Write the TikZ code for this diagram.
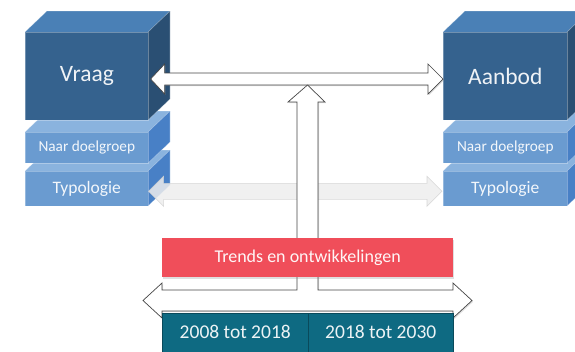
\documentclass[tikz,border=0pt]{standalone}
\usepackage{fontspec}
\setmainfont{Carlito}
\usetikzlibrary{shadows,calc}
\definecolor{cubeF}{RGB}{53,98,142}
\definecolor{cubeT}{RGB}{74,128,182}
\definecolor{cubeS}{RGB}{42,79,115}
\definecolor{slabF}{RGB}{106,155,208}
\definecolor{slabT}{RGB}{138,179,222}
\definecolor{slabS}{RGB}{72,128,198}
\definecolor{redbox}{RGB}{240,78,90}
\definecolor{tealbox}{RGB}{14,106,130}
\definecolor{arrowedge}{RGB}{70,70,70}
\newcommand\prism[8]{%
  \fill[#6] ({#1},{#2}) -- ({#1+22},{#2-21}) -- ({#3+22},{#2-21}) -- ({#3},{#2}) -- cycle;
  \fill[#7] ({#3},{#2}) -- ({#3+22},{#2-21}) -- ({#3+22},{#4-21}) -- ({#3},{#4}) -- cycle;
  \draw[white,opacity=.3,line width=.6pt] ({#1},{#2}) -- ({#1+22},{#2-21}) -- ({#3+22},{#2-21}) -- ({#3+22},{#4-21}) -- ({#3},{#4}) ({#3},{#2}) -- ({#3+22},{#2-21});
  \node[fill=#5, draw=white, draw opacity=.3, line width=.6pt, minimum width={#3-#1}, minimum height={#4-#2}, inner sep=0pt, anchor=north west] (#8) at ({#1},{#2}) {};
}
\tikzset{
  boxtxt/.style={text=white, opacity=.92},
  blockarrow/.style={fill=white, draw=arrowedge, line width=.7pt, line join=miter,
    drop shadow={shadow xshift=1.2pt, shadow yshift=-1.2pt, opacity=.25}},
  ghostarrow/.style={fill=gray!14, draw=gray!35, line width=.6pt, opacity=.85},
}
\begin{document}
\begin{tikzpicture}[x=1pt,y=-1pt]
\useasboundingbox (0,0) rectangle (575,351);
\clip (0,0) rectangle (575,351);
% left stack
\prism{25}{171}{148}{206}{slabF}{slabT}{slabS}{ltyp}
\prism{25}{132}{148}{163}{slabF}{slabT}{slabS}{ldoel}
\prism{25}{32}{148}{120}{cubeF}{cubeT}{cubeS}{lcube}
\node[boxtxt, font=\fontsize{23.5}{23.5}\selectfont] (vraag) at (lcube.center) {Vraag};
\node[boxtxt, font=\fontsize{15.3}{15.3}\selectfont] (vdoel) at (ldoel.center) {Naar doelgroep};
\node[boxtxt, font=\fontsize{17.5}{17.5}\selectfont] (vtyp) at (ltyp.center) {Typologie};
% right stack
\prism{443}{171}{567}{206}{slabF}{slabT}{slabS}{rtyp}
\prism{443}{132}{567}{163}{slabF}{slabT}{slabS}{rdoel}
\prism{443}{32}{567}{120}{cubeF}{cubeT}{cubeS}{rcube}
\node[boxtxt, font=\fontsize{23.5}{23.5}\selectfont] (aanbod) at (rcube.center) {Aanbod};
\node[boxtxt, font=\fontsize{15.3}{15.3}\selectfont] (adoel) at (rdoel.center) {Naar doelgroep};
\node[boxtxt, font=\fontsize{17.5}{17.5}\selectfont] (atyp) at (rtyp.center) {Typologie};
% ghost arrow between Typologie slabs
\coordinate (gL) at ($(ltyp.east)+(0,2.5)$);
\coordinate (gR) at ($(rtyp.west)+(-1,2.5)$);
\fill[ghostarrow] (gL) -- ++(15,-15) -- ++(0,7) -- ($(gR)+(-15,-8)$) -- ++(0,-7) -- (gR) -- ++(-15,15) -- ++(0,-7) -- ($(gL)+(15,8)$) -- ++(0,7) -- cycle;
% top double arrow between Vraag and Aanbod
\coordinate (tL) at ($(lcube.north east)+(2,47)$);
\coordinate (tR) at ($(rcube.north west)+(0,47)$);
\path[blockarrow] (tL) -- ++(14,-15) -- ++(0,9) -- ($(tR)+(-15,-6)$) -- ++(0,-9) -- (tR) -- ++(-15,15) -- ++(0,-9) -- ($(tL)+(14,6)$) -- ++(0,9) -- cycle;
% T arrow: timeline double arrow with vertical arrow up to the top arrow
\coordinate (bL) at (143,300.5);
\coordinate (bR) at (472,300.5);
\path[blockarrow] (bL) -- ++(19,-17.5) -- ++(0,7) -- (297,290) -- (297,102) -- (288,102) -- (307.5,85) -- (325,102) -- (318,102) -- (318,290) -- ($(bR)+(-19,-10.5)$) -- ++(0,-7) -- (bR) -- ++(-19,17.5) -- ++(0,-7) -- ($(bL)+(19,10.5)$) -- ++(0,7) -- cycle;
% red box
\node[fill=redbox, minimum width=291, minimum height=39, inner sep=0pt, anchor=north west,
  drop shadow={shadow xshift=1pt, shadow yshift=-1.5pt, opacity=.25}] (trends) at (162,238) {};
\node[text=white, opacity=.95, font=\fontsize{18}{18}\selectfont] (trendtxt) at (trends.center) {Trends en ontwikkelingen};
% teal period boxes
\node[fill=tealbox, draw=tealbox!70!black, line width=.5pt, minimum width=146, minimum height=45, inner sep=0pt, anchor=north west] (p1) at (162,313) {};
\node[fill=tealbox, draw=tealbox!70!black, line width=.5pt, minimum width=145, minimum height=45, inner sep=0pt, anchor=north west] (p2) at (308,313) {};
\node[text=white, opacity=.92, font=\fontsize{19.5}{19.5}\selectfont] (p1txt) at ($(p1.north)+(0,19)$) {2008 tot 2018};
\node[text=white, opacity=.92, font=\fontsize{19.5}{19.5}\selectfont] (p2txt) at ($(p2.north)+(0,19)$) {2018 tot 2030};
\end{tikzpicture}
\end{document}
